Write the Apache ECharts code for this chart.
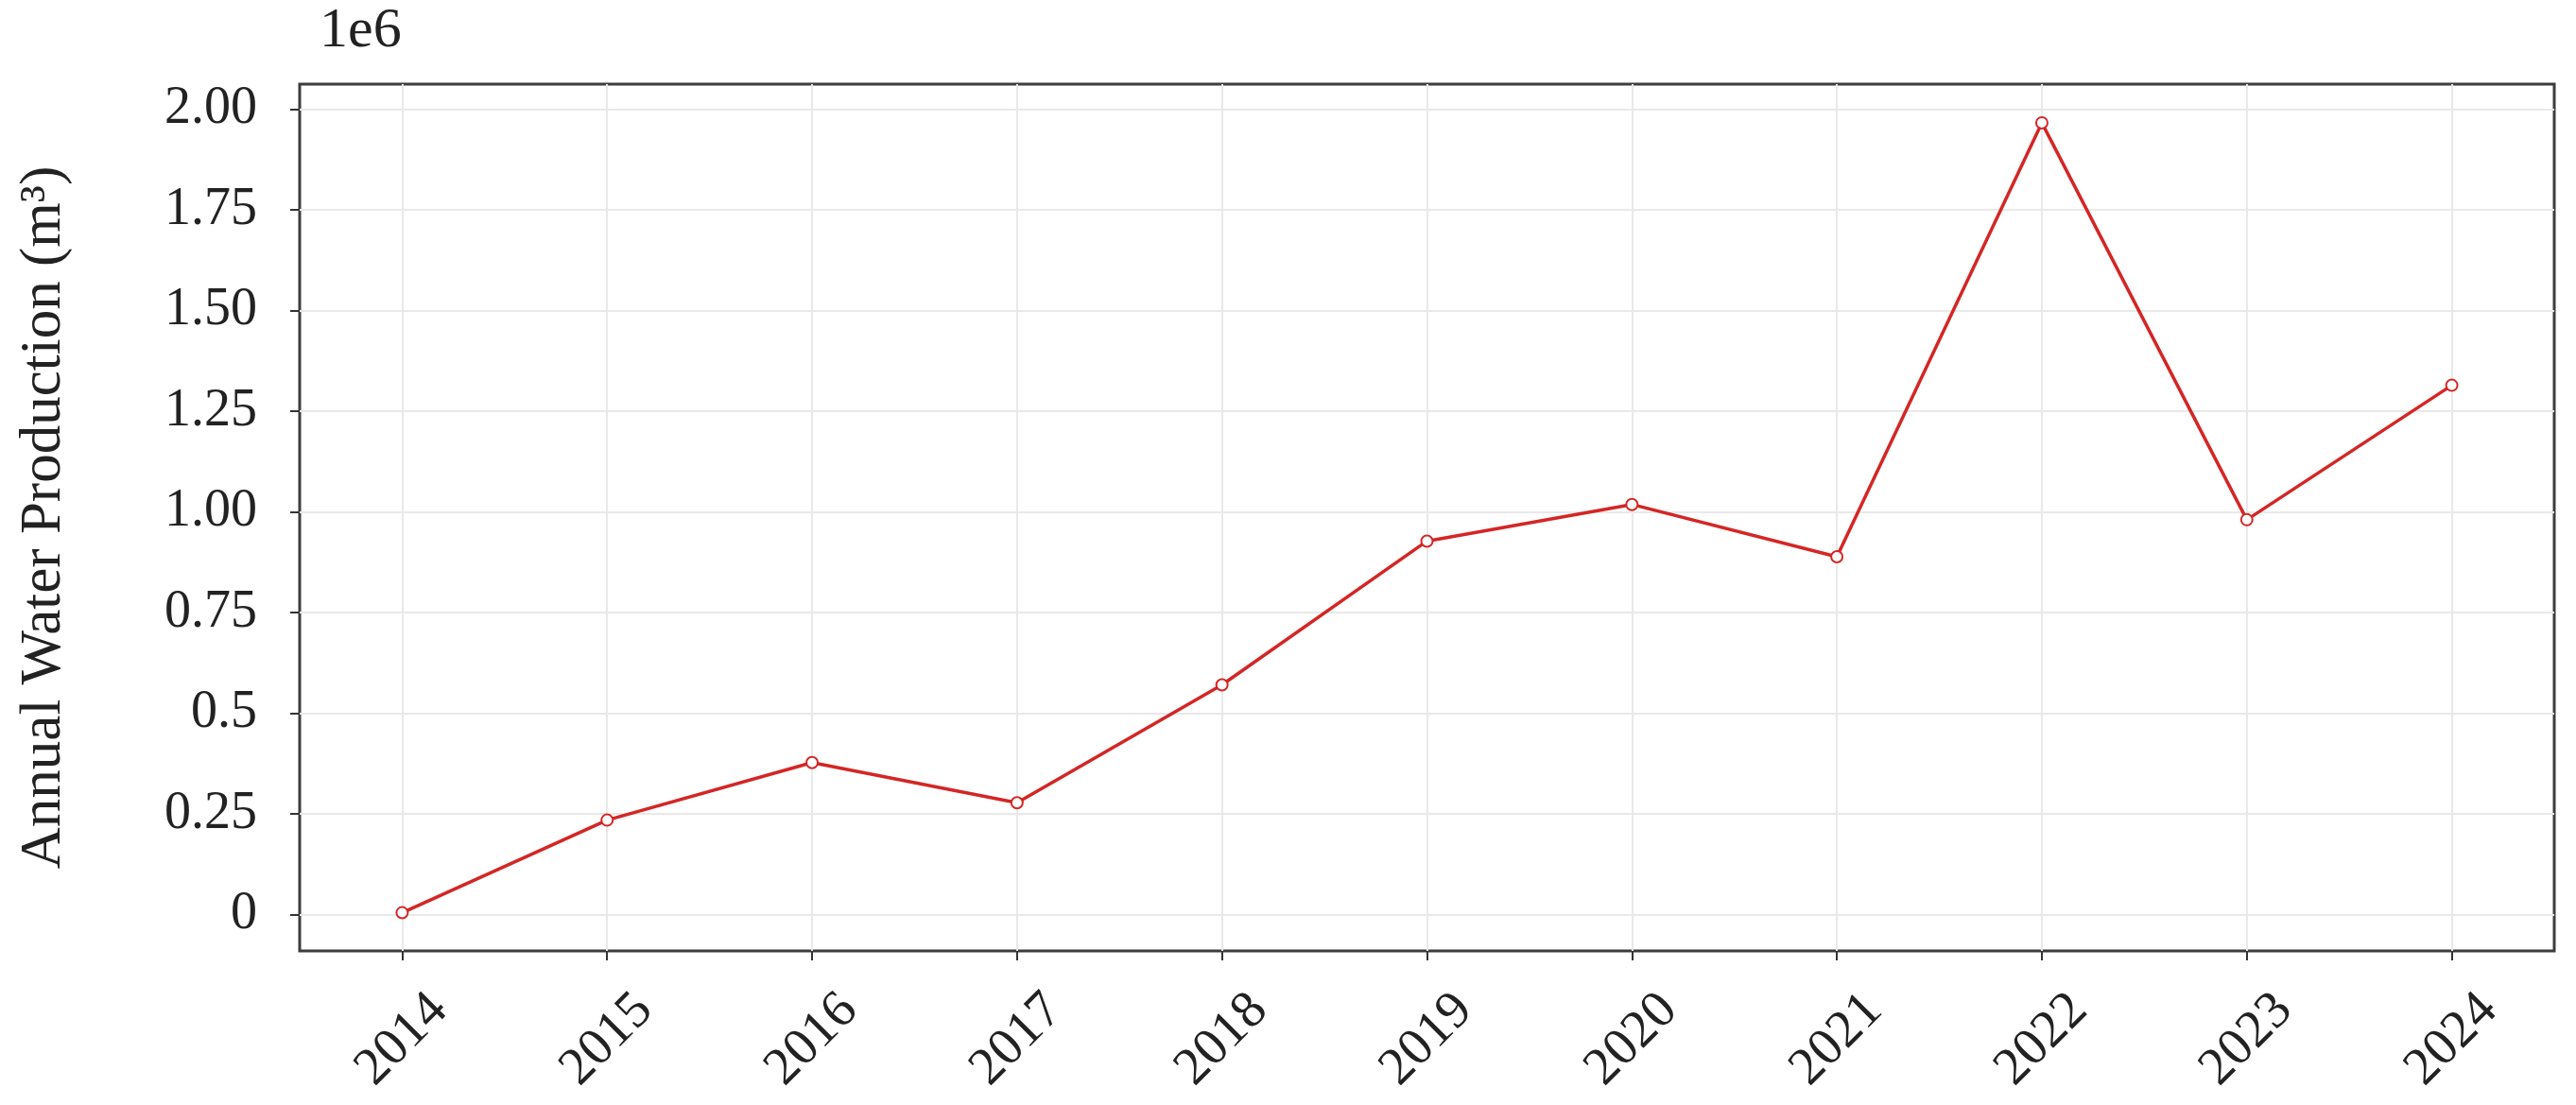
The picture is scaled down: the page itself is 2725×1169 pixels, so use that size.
<!DOCTYPE html>
<html>
<head>
<meta charset="utf-8">
<script src="https://cdn.jsdelivr.net/npm/echarts@6/dist/echarts.min.js"></script>
<style>
  html, body { margin: 0; padding: 0; background: #fff; }
  #lineChart { width: 2725px; height: 1169px; }
</style>
</head>
<body>
<div id="lineChart"></div>
<script>
// years on the x axis
const years = [2014, 2015, 2016, 2017, 2018, 2019, 2020, 2021, 2022, 2023, 2024]
// annual water production, m3
const production = [4000, 234000, 377000, 277000, 570000, 927000, 1018000, 888000, 1966000, 980000, 1314000]
// y tick positions and the labels printed at them (scale 1e6)
const yTickValues = [0, 250000, 500000, 750000, 1000000, 1250000, 1500000, 1750000, 2000000]
const yTickLabels = ['0', '0.25', '0.5', '0.75', '1.00', '1.25', '1.50', '1.75', '2.00']

const font = 'Liberation Serif'
const chart = echarts.init(document.getElementById('lineChart'))

const option = {
  backgroundColor: '#fff',
  animation: false,
  grid: {
    left: 317,
    right: 23,
    top: 89,
    bottom: 163,
    show: true,
    borderColor: '#3c3c3c',
    borderWidth: 3,
    containLabel: false,
    outerBoundsMode: 'none'
  },
  graphic: [
    {
      type: 'text',
      x: 338,
      y: 33,
      style: {
        text: '1e6',
        font: '60px "Liberation Serif"',
        fill: '#222',
        textVerticalAlign: 'middle'
      }
    }
  ],
  xAxis: {
    type: 'value',
    min: 2013.5,
    max: 2024.5,
    axisLine: { show: false, onZero: false },
    axisTick: {
      show: true,
      length: 10,
      customValues: years,
      lineStyle: { color: '#333', width: 2 }
    },
    axisLabel: {
      customValues: years,
      rotate: 45,
      align: 'center',
      verticalAlign: 'middle',
      margin: 94,
      fontFamily: font,
      fontSize: 56,
      color: '#222',
      formatter: function (v) {
        return String(v)
      }
    },
    splitLine: {
      show: true,
      lineStyle: { color: '#e9e9e9', width: 2 }
    }
  },
  yAxis: {
    type: 'value',
    min: -90900,
    max: 2062000,
    name: 'Annual Water Production (m³)',
    nameLocation: 'middle',
    nameRotate: 90,
    nameGap: 270,
    nameTextStyle: {
      fontFamily: font,
      fontSize: 61,
      color: '#222',
      verticalAlign: 'middle'
    },
    axisLine: { show: false, onZero: false },
    axisTick: {
      show: true,
      length: 10,
      customValues: yTickValues,
      lineStyle: { color: '#333', width: 2 }
    },
    axisLabel: {
      customValues: yTickValues,
      margin: 45,
      fontFamily: font,
      fontSize: 56,
      color: '#222',
      formatter: function (v) {
        const i = yTickValues.indexOf(v)
        return i >= 0 ? yTickLabels[i] : ''
      }
    },
    splitLine: {
      show: true,
      lineStyle: { color: '#e9e9e9', width: 2 }
    }
  },
  series: [
    {
      type: 'line',
      data: years.map((y, i) => [y, production[i]]),
      symbol: 'emptyCircle',
      symbolSize: 12,
      lineStyle: { color: '#d42626', width: 3.5 },
      itemStyle: { color: '#d42626', borderColor: '#d42626', borderWidth: 3 }
    }
  ]
}

chart.setOption(option, true)
</script>
</body>
</html>
